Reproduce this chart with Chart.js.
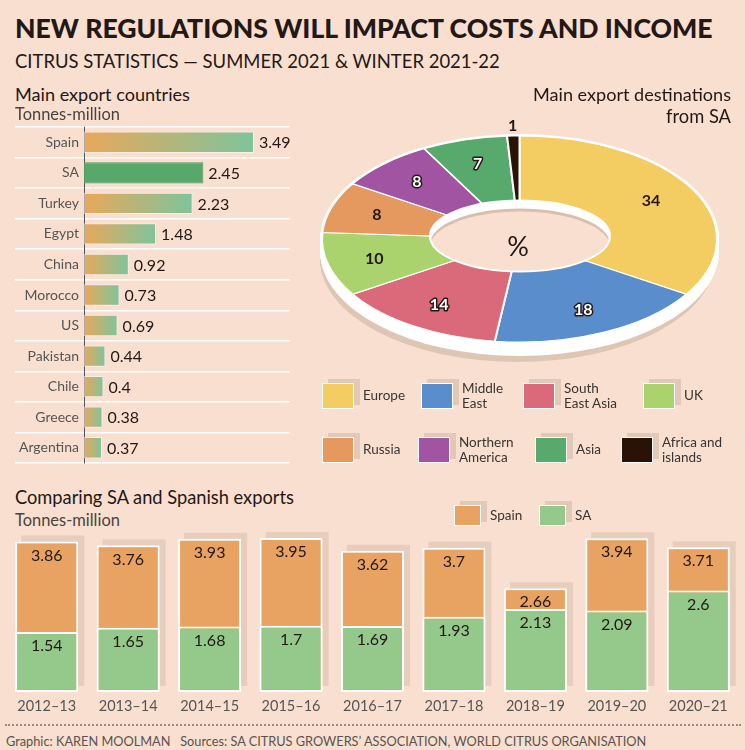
<!DOCTYPE html>
<html>
<head>
<meta charset="utf-8">
<script src="https://cdn.jsdelivr.net/npm/chart.js@4.4.1/dist/chart.umd.min.js"></script>
<style>
  html, body { margin: 0; padding: 0; }
  body { width: 745px; height: 750px; background: #F9DFCF; position: relative; overflow: hidden; font-family: Lato, 'Open Sans', sans-serif; color: #231815; }
  .t { position: absolute; white-space: nowrap; line-height: 1; }
  .box { position: absolute; box-sizing: border-box; border: 1.5px solid #fff; box-shadow: 6px -4px 0 #E2C8B6; }
  .lg { position: absolute; font-size: 13.5px; line-height: 15.5px; color: #3a3432; white-space: nowrap; }
  .wrap { position: absolute; }
  #dots { position: absolute; left: 5px; top: 724px; width: 736px; height: 0; border-top: 2px dotted #9c8a80; }
</style>
</head>
<body>
<div class="wrap" style="left:15px;top:122px;width:285px;height:346px;"><canvas id="countryChart"></canvas></div>
<div class="wrap" style="left:297px;top:100px;width:445px;height:400px;"><canvas id="destChart"></canvas></div>
<div class="wrap" style="left:0px;top:530px;width:745px;height:190px;"><canvas id="seasonChart"></canvas></div>

<div class="t" data-w="698" data-cy="28" style="left:15px;font-size:29px;font-weight:900;">NEW REGULATIONS WILL IMPACT COSTS AND INCOME</div>
<div class="t" data-w="485" data-cy="61" style="left:15px;font-size:19px;">CITRUS STATISTICS — SUMMER 2021 &amp; WINTER 2021-22</div>
<div class="t" data-w="175" data-cy="94" style="left:15px;font-size:17px;">Main export countries</div>
<div class="t" data-w="105" data-cy="114" style="left:15px;font-size:14px;color:#4a4240;">Tonnes-million</div>
<div class="t" data-w="198" data-cy="94" data-r="731" style="font-size:17px;">Main export destinations</div>
<div class="t" data-w="65" data-cy="116" data-r="731" style="font-size:17px;">from SA</div>
<div class="t" data-w="279" data-cy="497" style="left:15px;font-size:17px;">Comparing SA and Spanish exports</div>
<div class="t" data-w="105" data-cy="520" style="left:15px;font-size:14px;color:#4a4240;">Tonnes-million</div>
<div id="dots"></div>
<div class="t" data-w="641" data-cy="741" style="left:6px;font-size:13px;color:#5a5250;">Graphic: KAREN MOOLMAN&nbsp;&nbsp; Sources: SA CITRUS GROWERS’ ASSOCIATION, WORLD CITRUS ORGANISATION</div>
<div id="legends"></div>

<script>
// Main export countries, tonnes-million
const exportCountries = ['Spain', 'SA', 'Turkey', 'Egypt', 'China', 'Morocco', 'US', 'Pakistan', 'Chile', 'Greece', 'Argentina'];
const exportTonnes = [3.49, 2.45, 2.23, 1.48, 0.92, 0.73, 0.69, 0.44, 0.4, 0.38, 0.37];

// Main export destinations from SA, %
const destLabels = ['Europe', ['Middle', 'East'], ['South', 'East Asia'], 'UK', 'Russia', ['Northern', 'America'], 'Asia', ['Africa and', 'islands']];
const destShares = [34, 18, 14, 10, 8, 8, 7, 1];

// Comparing SA and Spanish exports, tonnes-million
const seasons = ['2012–13', '2013–14', '2014–15', '2015–16', '2016–17', '2017–18', '2018–19', '2019–20', '2020–21'];
const spainExports = [3.86, 3.76, 3.93, 3.95, 3.62, 3.7, 2.66, 3.94, 3.71];
const saExports = [1.54, 1.65, 1.68, 1.7, 1.69, 1.93, 2.13, 2.09, 2.6];

const bg = '#F9DFCF';
const destColors = ['#F3CC62', '#5A8DCB', '#DA6A7A', '#AAD36E', '#E6995F', '#A054A1', '#57AA6B', '#2A1306'];
const whiteLabel = [false, true, true, false, false, true, true, false];
const spainColor = '#E8A363';
const saColor = '#95C98B';

// fit heading texts to the widths in the original
document.querySelectorAll('[data-w]').forEach(el => {
    const fs = parseFloat(el.style.fontSize);
    const w = el.getBoundingClientRect().width;
    const size = fs * (+el.dataset.w) / w;
    el.style.fontSize = size + 'px';
    el.style.top = (+el.dataset.cy - size / 2) + 'px';
    if (el.dataset.r) el.style.left = (+el.dataset.r - el.getBoundingClientRect().width) + 'px';
});

// legends (html)
const legends = document.getElementById('legends');
function addLegend(x, y, w, h, color, label) {
    const b = document.createElement('div');
    b.className = 'box';
    b.style.cssText = `left:${x}px;top:${y}px;width:${w}px;height:${h}px;background:${color};`;
    legends.appendChild(b);
    const t = document.createElement('div');
    t.className = 'lg';
    const lines = Array.isArray(label) ? label : [label];
    t.innerHTML = lines.join('<br>');
    t.style.left = (x + w + 9) + 'px';
    t.style.top = (y + h / 2 - lines.length * 15.5 / 2) + 'px';
    legends.appendChild(t);
}
const destLegendPos = [[322, 383], [421, 383], [523, 383], [643, 383], [322, 437], [418, 437], [535, 437], [621, 437]];
destLabels.forEach((l, i) => addLegend(destLegendPos[i][0], destLegendPos[i][1], 32, 26, destColors[i], l));
addLegend(454, 505, 27, 21, spainColor, 'Spain');
addLegend(539, 505, 27, 21, saColor, 'SA');

function ellipse(ctx, x, y, rx, ry) {
    ctx.beginPath();
    ctx.ellipse(x, y, rx, ry, 0, 0, Math.PI * 2);
}

// Main export countries
const countryValueLabels = {
    id: 'countryValueLabels',
    afterDatasetsDraw(chart) {
        const ctx = chart.ctx;
        ctx.save();
        ctx.font = '16px Lato';
        ctx.fillStyle = '#231815';
        ctx.textBaseline = 'middle';
        chart.getDatasetMeta(0).data.forEach((bar, i) => {
            ctx.fillText(String(exportTonnes[i]), bar.x + 5, bar.y + 1);
        });
        ctx.restore();
    }
};

new Chart(document.getElementById('countryChart'), {
    type: 'bar',
    data: {
        labels: exportCountries,
        datasets: [{
            data: exportTonnes,
            backgroundColor: function(c) {
                if (c.dataIndex === 1) return '#57A86A';
                const xs = c.chart.scales.x;
                if (!xs || !c.chart.chartArea) return '#B5B47A';
                const x0 = xs.getPixelForValue(0);
                const x1 = xs.getPixelForValue(exportTonnes[c.dataIndex]);
                const g = c.chart.ctx.createLinearGradient(x0, 0, x1, 0);
                g.addColorStop(0, '#E9A85A');
                g.addColorStop(1, '#7EC49C');
                return g;
            },
            borderColor: function(c) { return c.dataIndex === 1 ? '#4F9B61' : 'rgba(255,255,255,0.5)'; },
            borderWidth: 1,
            borderSkipped: false,
            barPercentage: 0.7,
            categoryPercentage: 1
        }]
    },
    options: {
        indexAxis: 'y',
        responsive: true,
        maintainAspectRatio: false,
        animation: false,
        events: [],
        layout: { padding: { top: 5, bottom: 5, right: 10, left: 0 } },
        scales: {
            x: { display: false, min: 0, max: 4.23 },
            y: {
                grid: { color: '#fff', lineWidth: 1.5, offset: true, tickLength: 69 },
                border: { color: '#555', width: 1 },
                ticks: { padding: -64, autoSkip: false, color: '#555', font: { family: 'Lato', size: 14 } },
                afterFit: function(s) { s.width = 69; }
            }
        },
        plugins: { legend: { display: false }, tooltip: { enabled: false } }
    },
    plugins: [countryValueLabels]
});

// Main export destinations - doughnut squashed into a tilted disc
const K = 0.522;
const faceCy = 139;
const holeRx = 90, holeRy = 35.5;
const tiltedDisc = {
    id: 'tiltedDisc',
    beforeDatasetsDraw(chart) {
        const ctx = chart.ctx;
        const arc = chart.getDatasetMeta(0).data[0];
        const R = arc.outerRadius, ry = R * K;
        ctx.save();
        ctx.fillStyle = '#DEC6B4';
        for (let d = 0; d <= 20; d++) { ellipse(ctx, arc.x - 2, faceCy + d, R, ry); ctx.fill(); }
        ctx.fillStyle = '#fff';
        for (let d = 0; d <= 12; d++) { ellipse(ctx, arc.x, faceCy + d, R + 2, ry + 2); ctx.fill(); }
        ctx.restore();
        ctx.save();
        ctx.translate(0, faceCy - arc.y * K);
        ctx.scale(1, K);
    },
    afterDatasetsDraw(chart) {
        const ctx = chart.ctx;
        ctx.restore();
        const meta = chart.getDatasetMeta(0);
        const hx = meta.data[0].x + 0.5, hy = faceCy - 3;

        // hole with its inner wall
        ctx.save();
        ellipse(ctx, hx, hy, holeRx, holeRy);
        ctx.clip();
        ctx.fillStyle = '#fff';
        ctx.fillRect(hx - holeRx - 5, hy - holeRy - 5, holeRx * 2 + 10, holeRy * 2 + 10);
        ctx.fillStyle = '#D8BFAD';
        ellipse(ctx, hx, hy + 8, holeRx, holeRy); ctx.fill();
        ctx.fillStyle = bg;
        ellipse(ctx, hx, hy + 11, holeRx, holeRy); ctx.fill();
        ctx.restore();
        ctx.save();
        ctx.strokeStyle = '#fff';
        ctx.lineWidth = 2;
        ellipse(ctx, hx, hy, holeRx, holeRy); ctx.stroke();

        ctx.fillStyle = '#231815';
        ctx.font = '27px Lato';
        ctx.textAlign = 'center';
        ctx.textBaseline = 'middle';
        ctx.fillText('%', hx - 2, hy + 11);

        // slice values
        ctx.font = 'bold 16px Lato';
        ctx.lineJoin = 'round';
        meta.data.forEach((arc, i) => {
            const mid = (arc.startAngle + arc.endAngle) / 2;
            const small = destShares[i] < 3;
            const r = small ? arc.outerRadius + 20 : 150;
            const x = arc.x + Math.cos(mid) * r;
            const y = faceCy + Math.sin(mid) * r * K;
            const txt = String(destShares[i]);
            if (whiteLabel[i]) {
                ctx.strokeStyle = '#231815';
                ctx.lineWidth = 3;
                ctx.strokeText(txt, x, y);
                ctx.fillStyle = '#fff';
            } else {
                ctx.fillStyle = '#231815';
            }
            ctx.fillText(txt, x, y);
        });
        ctx.restore();
    }
};

new Chart(document.getElementById('destChart'), {
    type: 'doughnut',
    data: {
        labels: destLabels,
        datasets: [{
            data: destShares,
            backgroundColor: destColors,
            borderColor: '#fff',
            borderWidth: 2
        }]
    },
    options: {
        responsive: true,
        maintainAspectRatio: false,
        animation: false,
        events: [],
        radius: 197.5,
        cutout: 60,
        layout: { padding: 0 },
        plugins: { legend: { display: false }, tooltip: { enabled: false } }
    },
    plugins: [tiltedDisc]
});

// Comparing SA and Spanish exports
const seasonBars = {
    id: 'seasonBars',
    beforeDatasetsDraw(chart) {
        const ctx = chart.ctx;
        ctx.save();
        ctx.fillStyle = '#E6CDBC';
        chart.getDatasetMeta(0).data.forEach(bar => {
            ctx.fillRect(bar.x - bar.width / 2 + 6, bar.y - 6, bar.width, bar.base - bar.y);
        });
        ctx.restore();
    },
    afterDatasetsDraw(chart) {
        const ctx = chart.ctx;
        ctx.save();
        ctx.font = '16px Lato';
        ctx.fillStyle = '#231815';
        ctx.textAlign = 'center';
        ctx.textBaseline = 'middle';
        [spainExports, saExports].forEach((values, d) => {
            chart.getDatasetMeta(d).data.forEach((bar, i) => {
                ctx.fillText(String(values[i]), bar.x, bar.y + 14);
            });
        });
        ctx.restore();
    }
};

new Chart(document.getElementById('seasonChart'), {
    type: 'bar',
    data: {
        labels: seasons,
        datasets: [
            { label: 'Spain', data: spainExports, backgroundColor: spainColor, order: 1 },
            { label: 'SA', data: saExports, backgroundColor: saColor, order: 0 }
        ]
    },
    options: {
        responsive: true,
        maintainAspectRatio: false,
        animation: false,
        events: [],
        datasets: { bar: { borderColor: '#fff', borderWidth: 2, borderSkipped: false, barPercentage: 0.774, categoryPercentage: 1 } },
        layout: { padding: { top: 6, left: 6, right: 6, bottom: 0 } },
        scales: {
            x: {
                stacked: true,
                grid: { display: false, drawTicks: false },
                border: { display: false },
                ticks: { color: '#555', padding: 6, font: { family: 'Lato', size: 14.5 } },
                afterFit: function(s) { s.height = 28; }
            },
            y: { display: false, min: 0, max: 4 }
        },
        plugins: { legend: { display: false }, tooltip: { enabled: false } }
    },
    plugins: [seasonBars]
});
</script>
</body>
</html>
